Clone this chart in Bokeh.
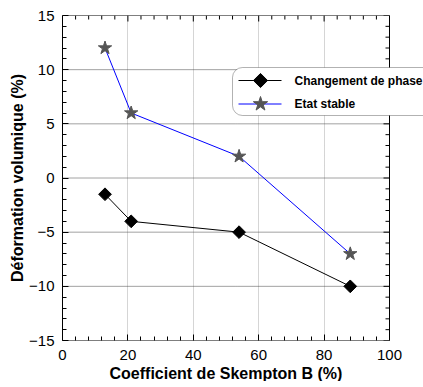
from bokeh.plotting import figure
from bokeh.models import Range1d, FixedTicker, BoxAnnotation, Title
from bokeh.core.properties import value
from bokeh.embed import file_html
from bokeh.resources import INLINE
import math

# Skempton coefficient B (%) and volumetric strain (%)
skempton_b = [13, 21, 54, 88]
phase_change = [-1.5, -4, -5, -10]
steady_state = [12, 6, 2, -7]
series_names = ["Changement de phase", "Etat stable"]

x_ticks = [0, 20, 40, 60, 80, 100]
y_ticks = [-15, -10, -5, 0, 5, 10, 15]
x_minor = [x for x in range(0, 101, 4) if x not in x_ticks]
y_minor = [y for y in range(-15, 16) if y not in y_ticks]

FONT = "Liberation Sans"

# plot box is 327 px wide; the frame runs on to the window edge so the
# legend may overhang the right border of the box
LEFT, TOP = 62, 15
BOX_W, FRAME_W, FRAME_H = 327, 361, 325
X_MAX = 100 * FRAME_W / BOX_W
px_x = 100 / BOX_W      # data units per pixel
px_y = 30 / FRAME_H


def sx(px):
    """window pixel column -> data x"""
    return (px - LEFT) * px_x


def sy(py):
    """window pixel row -> data y"""
    return 15 - (py - TOP) * px_y


p = figure(frame_width=FRAME_W, frame_height=FRAME_H,
           min_border_left=LEFT, min_border_right=0,
           min_border_top=TOP, min_border_bottom=30,
           x_range=Range1d(0, X_MAX), y_range=Range1d(-15, 15),
           output_backend="svg", toolbar_location=None,
           background_fill_color="white", border_fill_color="white")
p.outline_line_color = None

xa, ya = p.xaxis[0], p.yaxis[0]
xa.ticker = FixedTicker(ticks=x_ticks, minor_ticks=x_minor)
ya.ticker = FixedTicker(ticks=y_ticks, minor_ticks=y_minor)
for ax in (xa, ya):
    ax.major_label_text_font = FONT
    ax.major_label_text_font_size = "15px"
    ax.major_label_text_color = "black"
    ax.axis_label_text_font = FONT
    ax.axis_label_text_font_size = "16px"
    ax.axis_label_text_font_style = "bold"
    ax.axis_label_text_color = "black"
    ax.major_tick_in = 6
    ax.major_tick_out = 0
    ax.minor_tick_in = 4
    ax.minor_tick_out = 0
    ax.major_tick_line_color = "black"
    ax.minor_tick_line_color = "black"
xa.axis_line_color = None
ya.axis_line_color = "black"
xa.major_label_standoff = 9
ya.major_label_standoff = 8
ya.axis_label = "Déformation volumique (%)"
ya.axis_label_standoff = 0

# x axis title, centred under the plot box
x_title = Title(text="Coefficient de Skempton B (%)", align="left", offset=47,
                text_font=FONT, text_font_size="16px", text_font_style="bold",
                text_color="black", standoff=0)
p.add_layout(x_title, "below")

# vertical grid from the bottom ticker, horizontal grid drawn inside the box
p.xgrid.ticker = FixedTicker(ticks=x_ticks)
p.xgrid.grid_line_color = "#aaaaaa"
p.xgrid.grid_line_dash = "1 1"
p.ygrid.visible = False
inner_y = [y for y in y_ticks if -15 < y < 15]
p.segment(x0=[0] * len(inner_y), x1=[100] * len(inner_y), y0=inner_y, y1=inner_y,
          line_color="#444444", line_dash="1 1", line_width=1)

# plot box border
p.quad(left=[0], right=[100], bottom=[-15], top=[15],
       fill_color=None, line_color="black", line_width=1)

# inward ticks on the top and right sides of the box
top_x = x_ticks + x_minor
top_len = [6 * px_y if x in x_ticks else 4 * px_y for x in top_x]
p.segment(x0=top_x, x1=top_x, y0=[15] * len(top_x),
          y1=[15 - d for d in top_len], line_color="black", line_width=1)
right_y = y_ticks + y_minor
right_len = [6 * px_x if y in y_ticks else 4 * px_x for y in right_y]
p.segment(x0=[100] * len(right_y), x1=[100 - d for d in right_len],
          y0=right_y, y1=right_y, line_color="black", line_width=1)

# data series
p.line(skempton_b, phase_change, line_color="black", line_width=1)
p.scatter(skempton_b, phase_change, marker="square", angle=math.pi / 4,
          size=9, fill_color="black", line_color="black")
p.line(skempton_b, steady_state, line_color="#0000ff", line_width=1)
p.scatter(skempton_b, steady_state, marker="star", size=14,
          fill_color="#555555", line_color="#555555")

# legend box with rounded corners, overhanging the right border
p.add_layout(BoxAnnotation(left=sx(232), right=sx(445), top=sy(67), bottom=sy(115),
                           fill_color="white", fill_alpha=1,
                           line_color="black", line_width=1, border_radius=10))

row_y = [sy(80), sy(103.5)]
line_x0, line_x1, mark_x, text_x = sx(238), sx(281), sx(260), sx(294)
styles = [dict(line="black", marker="square", angle=math.pi / 4, size=10, fill="black"),
          dict(line="#0000ff", marker="star", angle=0, size=15, fill="#555555")]
for name, yy, st in zip(series_names, row_y, styles):
    p.line([line_x0, line_x1], [yy, yy], line_color=st["line"], line_width=1,
           level="overlay")
    p.scatter([mark_x], [yy], marker=st["marker"], angle=st["angle"], size=st["size"],
              fill_color=st["fill"], line_color=st["fill"], level="overlay")
    p.text([text_x], [yy], text=[name], text_font=value(FONT), text_font_size="12px",
           text_font_style="bold", text_color="black", text_baseline="middle",
           text_align="left", level="overlay")

open("out.html", "w").write(file_html(p, INLINE))
